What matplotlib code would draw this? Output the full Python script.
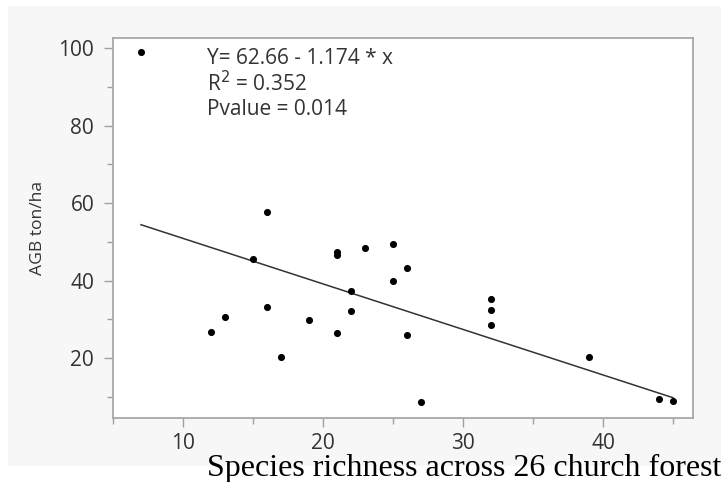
import matplotlib
matplotlib.use("Agg")
import matplotlib.pyplot as plt
from matplotlib.patches import Rectangle

# species richness vs above-ground biomass, one point per church forest
richness = [7, 12, 13, 15, 16, 16, 17, 19, 21, 21, 21, 22, 22, 23,
            25, 25, 26, 26, 27, 32, 32, 32, 39, 44, 45]
agb = [99.0, 26.8, 30.6, 45.7, 57.6, 33.3, 20.3, 29.9, 47.5, 46.6, 26.6, 37.4, 32.3, 48.5,
       49.5, 39.9, 43.2, 26.0, 8.6, 35.3, 32.5, 28.5, 20.4, 9.5, 9.1]

intercept = 62.66
slope = -1.174
r2 = 0.352
pvalue = 0.014

x_ticks = [10, 20, 30, 40]
y_ticks = [20, 40, 60, 80, 100]

fig = plt.figure(figsize=(7.21, 4.82), dpi=100)
fig.patch.set_facecolor("white")

# light grey report panel behind the plot
fig.patches.append(Rectangle((8 / 721, 16 / 482), 713 / 721, 460 / 482,
                             transform=fig.transFigure, facecolor="#f7f7f7",
                             edgecolor="none", zorder=-5))

ax = fig.add_axes([0.1567, 0.1328, 0.8045, 0.7884])
ax.set_zorder(2)
ax.set_facecolor("white")

ax.scatter(richness, agb, s=26, color="black", zorder=3, linewidths=0)

x0, x1 = min(richness), max(richness)
ax.plot([x0, x1], [intercept + slope * x0, intercept + slope * x1],
        color="#333333", linewidth=1.1, zorder=2)

ax.set_xlim(5, 46.43)
ax.set_ylim(4.6, 102.6)
ax.set_xticks(x_ticks)
ax.set_yticks(y_ticks)
ax.set_xticks([5, 15, 25, 35, 45], minor=True)
ax.set_yticks([10, 30, 50, 70, 90], minor=True)

for side in ax.spines.values():
    side.set_color("#a8a8a8")
    side.set_linewidth(1.3)

ax.tick_params(which="major", length=6.5, width=1, color="#a0a0a0",
               labelsize=15, labelcolor="#333333")
ax.tick_params(which="minor", length=4, width=1, color="#a0a0a0")
ax.tick_params(axis="x", which="major", pad=4)
ax.tick_params(axis="y", which="major", pad=7)
for lab in ax.get_xticklabels() + ax.get_yticklabels():
    lab.set_family("Open Sans")

ax.set_ylabel("AGB ton/ha", family="Open Sans", fontsize=12.6,
              color="#333333", labelpad=9)

ax.text(0.162, 0.945, f"Y= {intercept:.2f} - {abs(slope):.3f} * x", transform=ax.transAxes,
        family="Open Sans", fontsize=15, color="#333333", va="center")
ax.text(0.162, 0.879, f"R$^2$ = {r2:.3f}", transform=ax.transAxes,
        family="Open Sans", fontsize=15, color="#333333", va="center")
ax.text(0.162, 0.813, f"Pvalue = {pvalue:.3f}", transform=ax.transAxes,
        family="Open Sans", fontsize=15, color="#333333", va="center")

fig.text(207 / 721, 6 / 482, "Species richness across 26 church forest",
         family="Liberation Serif", fontsize=23, color="black", va="baseline",
         zorder=5)

fig.savefig("out.png", dpi=100, facecolor=fig.get_facecolor())
